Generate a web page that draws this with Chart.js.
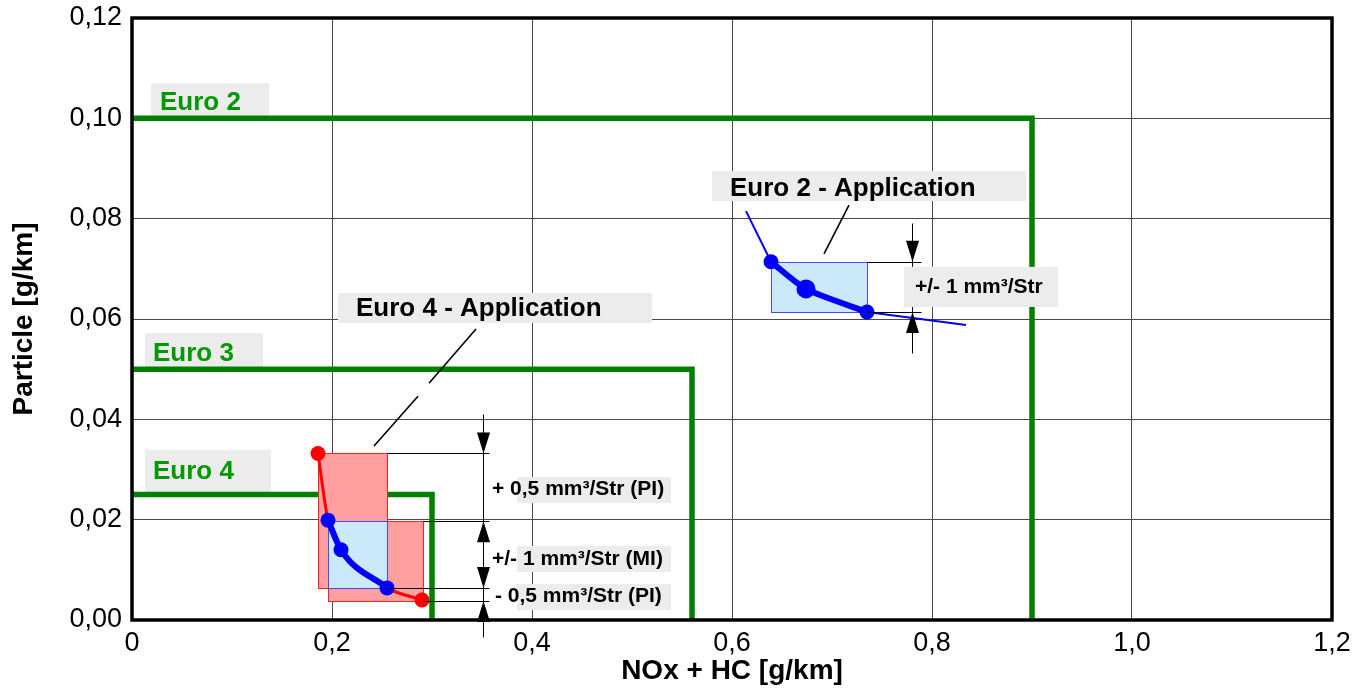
<!DOCTYPE html>
<html><head><meta charset="utf-8">
<script src="https://cdn.jsdelivr.net/npm/chart.js@4.4.0/dist/chart.umd.min.js"></script>
<style>html,body{margin:0;padding:0;background:#fff;overflow:hidden}</style>
</head><body>
<canvas id="c" width="1355" height="691"></canvas>
<script>
// ---------- data ----------
const xTickLabels = ['0','0,2','0,4','0,6','0,8','1,0','1,2'];
const yTickLabels = ['0,00','0,02','0,04','0,06','0,08','0,10','0,12'];

const limitNames = ['Euro 2','Euro 3','Euro 4'];
const euro2LimitX = [0, 0.9, 0.9];
const euro2LimitY = [0.1, 0.1, 0];
const euro3LimitX = [0, 0.56, 0.56];
const euro3LimitY = [0.05, 0.05, 0];
const euro4LimitX = [0, 0.30, 0.30];
const euro4LimitY = [0.025, 0.025, 0];

const e4PiX = [0.186, 0.196, 0.209, 0.255, 0.290];
const e4PiY = [0.0332, 0.0199, 0.0140, 0.0064, 0.0040];
const e4MiX = [0.196, 0.209, 0.255];
const e4MiY = [0.0199, 0.0140, 0.0064];
const e2TrendX = [0.614, 0.639, 0.674, 0.735, 0.834];
const e2TrendY = [0.0815, 0.0714, 0.0660, 0.0614, 0.0588];
const e2MiX = [0.639, 0.674, 0.735];
const e2MiY = [0.0714, 0.0660, 0.0614];

// tolerance bands [x0, x1, y0, y1]
const e4PiUpperBand = [0.186, 0.255, 0.0064, 0.0332];
const e4PiLowerBand = [0.196, 0.291, 0.0038, 0.0197];
const e4MiBand = [0.196, 0.255, 0.0064, 0.0197];
const e2MiBand = [0.639, 0.735, 0.0614, 0.0714];

const appNames = ['Euro 2 - Application','Euro 4 - Application'];
const dimNames = ['+ 0,5 mm³/Str (PI)','+/- 1 mm³/Str (MI)','- 0,5 mm³/Str (PI)','+/- 1 mm³/Str'];

// ---------- annotation layout (data units) ----------
const limitLabelLayout = [
  {box:[0.019,0.137,0.1,0.107], tx:0.028, ty:0.1030},
  {box:[0.013,0.131,0.05,0.0572], tx:0.021, ty:0.0530},
  {box:[0.013,0.139,0.025,0.0339], tx:0.021, ty:0.0295}
];
const appLabelLayout = [
  {box:[0.580,0.894,0.0835,0.0895], tx:0.598, ty:0.0859},
  {box:[0.206,0.520,0.0592,0.0652], tx:0.224, ty:0.0620}
];
const dimLabelLayout = [
  {box:[0.385,0.539,0.0233,0.0285], tx:0.360, ty:0.0261},
  {box:[0.385,0.539,0.00957,0.01475], tx:0.360, ty:0.0122},
  {box:[0.385,0.539,0.0020,0.0072], tx:0.363, ty:0.0048},
  {box:[0.772,0.926,0.0624,0.0704], tx:0.783, ty:0.0663}
];
const leaderLayout = [
  [[0.717,0.0827],[0.692,0.0730]],
  [[0.344,0.0580],[0.297,0.0472]],
  [[0.286,0.0446],[0.242,0.0347]]
];
const dimLineLayout = [
  [[0.351,0.0411],[0.351,-0.0034]],
  [[0.255,0.0332],[0.357,0.0332]],
  [[0.291,0.0197],[0.357,0.0197]],
  [[0.255,0.0064],[0.357,0.0064]],
  [[0.291,0.0038],[0.357,0.0038]],
  [[0.780,0.0791],[0.780,0.0532]],
  [[0.735,0.0714],[0.789,0.0714]],
  [[0.735,0.0614],[0.789,0.0614]]
];
const arrowLayout = [
  {x:0.351,y:0.0332,dir:1},{x:0.351,y:0.0197,dir:-1},
  {x:0.351,y:0.0064,dir:1},{x:0.351,y:0.0038,dir:-1},
  {x:0.780,y:0.0714,dir:1},{x:0.780,y:0.0614,dir:-1}
];

const FONT = '"Liberation Sans", Arial, Helvetica, sans-serif';
const GREEN_LINE = '#008000';
const GREEN_TEXT = '#009a00';
const BOX_GRAY = '#ececec';

const pts = (xs, ys) => xs.map((x, i) => ({x, y: ys[i]}));

const overlay = {
  id: 'overlay',
  beforeDatasetsDraw(chart) {
    const {ctx, scales:{x, y}} = chart;
    ctx.save();
    limitLabelLayout.forEach(l => {
      const b = l.box;
      ctx.fillStyle = BOX_GRAY;
      ctx.fillRect(x.getPixelForValue(b[0]), y.getPixelForValue(b[3]),
        x.getPixelForValue(b[1]) - x.getPixelForValue(b[0]),
        y.getPixelForValue(b[2]) - y.getPixelForValue(b[3]));
    });
    ctx.restore();
  },
  beforeDatasetDraw(chart, args) {
    if (args.index !== 3) return;
    const {ctx, scales:{x, y}} = chart;
    const rect = (b, fill, stroke) => {
      const x0 = Math.round(x.getPixelForValue(b[0])) + 0.5, x1 = Math.round(x.getPixelForValue(b[1])) + 0.5;
      const y0 = Math.round(y.getPixelForValue(b[3])) + 0.5, y1 = Math.round(y.getPixelForValue(b[2])) + 0.5;
      ctx.fillStyle = fill; ctx.fillRect(x0, y0, x1 - x0, y1 - y0);
      ctx.strokeStyle = stroke; ctx.lineWidth = 1; ctx.strokeRect(x0, y0, x1 - x0, y1 - y0);
    };
    ctx.save();
    rect(e4PiUpperBand, '#ff9f9f', '#ff2020');
    rect(e4PiLowerBand, '#ff9f9f', '#ff2020');
    rect(e4MiBand, '#cce9fb', '#4848ff');
    rect(e2MiBand, '#cce9fb', '#4848ff');
    ctx.restore();
  },
  afterDatasetsDraw(chart) {
    const {ctx, chartArea:a, scales:{x, y}} = chart;
    const X = v => x.getPixelForValue(v), Y = v => y.getPixelForValue(v);
    ctx.save();
    // frame
    ctx.strokeStyle = '#000'; ctx.lineWidth = 3.5;
    ctx.strokeRect(a.left, a.top, a.right - a.left, a.bottom - a.top);
    // dimension lines
    ctx.lineWidth = 1; ctx.strokeStyle = '#000';
    dimLineLayout.forEach(s => {
      ctx.beginPath();
      ctx.moveTo(Math.round(X(s[0][0])) + 0.5, Math.round(Y(s[0][1])) + 0.5);
      ctx.lineTo(Math.round(X(s[1][0])) + 0.5, Math.round(Y(s[1][1])) + 0.5);
      ctx.stroke();
    });
    // arrows
    ctx.fillStyle = '#000';
    arrowLayout.forEach(ar => {
      const px = Math.round(X(ar.x)) + 0.5, py = Y(ar.y);
      ctx.beginPath();
      ctx.moveTo(px, py);
      ctx.lineTo(px - 6.5, py - ar.dir * 21);
      ctx.lineTo(px + 6.5, py - ar.dir * 21);
      ctx.closePath(); ctx.fill();
    });
    // leader lines
    ctx.lineWidth = 1.6;
    leaderLayout.forEach(s => {
      ctx.beginPath(); ctx.moveTo(X(s[0][0]), Y(s[0][1])); ctx.lineTo(X(s[1][0]), Y(s[1][1])); ctx.stroke();
    });
    const label = (l, text, font, color) => {
      const b = l.box;
      ctx.fillStyle = BOX_GRAY;
      ctx.fillRect(X(b[0]), Y(b[3]), X(b[1]) - X(b[0]), Y(b[2]) - Y(b[3]));
      ctx.fillStyle = color; ctx.font = font;
      ctx.textAlign = 'left'; ctx.textBaseline = 'middle';
      ctx.fillText(text, X(l.tx), Y(l.ty));
    };
    appLabelLayout.forEach((l, i) => label(l, appNames[i], 'bold 26px ' + FONT, '#000'));
    dimLabelLayout.forEach((l, i) => label(l, dimNames[i], 'bold 21px ' + FONT, '#000'));
    limitLabelLayout.forEach((l, i) => {
      ctx.fillStyle = GREEN_TEXT; ctx.font = 'bold 26px ' + FONT;
      ctx.textAlign = 'left'; ctx.textBaseline = 'middle';
      ctx.fillText(limitNames[i], X(l.tx), Y(l.ty));
    });
    ctx.restore();
  }
};

const lineDefaults = {showLine: true, pointBorderWidth: 0, pointHoverRadius: 0, fill: false};

new Chart(document.getElementById('c'), {
  type: 'scatter',
  data: {
    datasets: [
      Object.assign({}, lineDefaults, {label:'E2 MI', data: pts(e2MiX, e2MiY), borderColor:'#0000ff', backgroundColor:'#0000ff',
        borderWidth: 6, pointRadius:[7.5, 9.5, 7.5], tension: 0.25, order: 1}),
      Object.assign({}, lineDefaults, {label:'E4 MI', data: pts(e4MiX, e4MiY), borderColor:'#0000ff', backgroundColor:'#0000ff',
        borderWidth: 6, pointRadius:[7.5, 7.5, 7.5], cubicInterpolationMode:'monotone', order: 1}),
      Object.assign({}, lineDefaults, {label:'E4 PI', data: pts(e4PiX, e4PiY), borderColor:'#ff0000', backgroundColor:'#ff0000',
        borderWidth: 3, pointRadius:[7.5, 0, 0, 0, 7.5], cubicInterpolationMode:'monotone', order: 2}),
      Object.assign({}, lineDefaults, {label:'E2 trend', data: pts(e2TrendX, e2TrendY), borderColor:'#0000ff', backgroundColor:'#0000ff',
        borderWidth: 2, pointRadius: 0, tension: 0, order: 2}),
      Object.assign({}, lineDefaults, {label:limitNames[0], data: pts(euro2LimitX, euro2LimitY), borderColor:GREEN_LINE,
        borderWidth: 5.5, pointRadius: 0, tension: 0, borderJoinStyle:'miter', order: 5}),
      Object.assign({}, lineDefaults, {label:limitNames[1], data: pts(euro3LimitX, euro3LimitY), borderColor:GREEN_LINE,
        borderWidth: 5.5, pointRadius: 0, tension: 0, borderJoinStyle:'miter', order: 5}),
      Object.assign({}, lineDefaults, {label:limitNames[2], data: pts(euro4LimitX, euro4LimitY), borderColor:GREEN_LINE,
        borderWidth: 5.5, pointRadius: 0, tension: 0, borderJoinStyle:'miter', order: 5})
    ]
  },
  options: {
    responsive: false,
    devicePixelRatio: 1,
    animation: false,
    events: [],
    layout: {padding: {left: 0, right: 23, top: 18, bottom: 0}},
    plugins: {legend: {display: false}, tooltip: {enabled: false}},
    scales: {
      x: {
        type: 'linear', min: 0, max: 1.2,
        afterFit: s => { s.height = 71; s.paddingLeft = 0; s.paddingRight = 0; },
        grid: {color: '#4a4a4a', lineWidth: 1, drawTicks: false},
        border: {display: false},
        ticks: {stepSize: 0.2, padding: 7, color: '#000', font: {family: FONT, size: 27},
          callback: (v, i) => xTickLabels[i], maxRotation: 0, autoSkip: false},
        title: {display: true, text: 'NOx + HC [g/km]', color: '#000',
          font: {family: FONT, size: 28, weight: 'bold'}, padding: {top: 0, bottom: 3}}
      },
      y: {
        type: 'linear', min: 0, max: 0.12,
        afterFit: s => { s.width = 132; s.paddingTop = 0; s.paddingBottom = 0; },
        grid: {color: '#4a4a4a', lineWidth: 1, drawTicks: false},
        border: {display: false},
        ticks: {stepSize: 0.02, padding: 10, color: '#000', font: {family: FONT, size: 27},
          callback: (v, i) => yTickLabels[i], autoSkip: false},
        title: {display: true, text: 'Particle [g/km]', color: '#000',
          font: {family: FONT, size: 28, weight: 'bold'}, padding: {top: 7, bottom: 0}}
      }
    }
  },
  plugins: [overlay]
});
</script>
</body></html>
